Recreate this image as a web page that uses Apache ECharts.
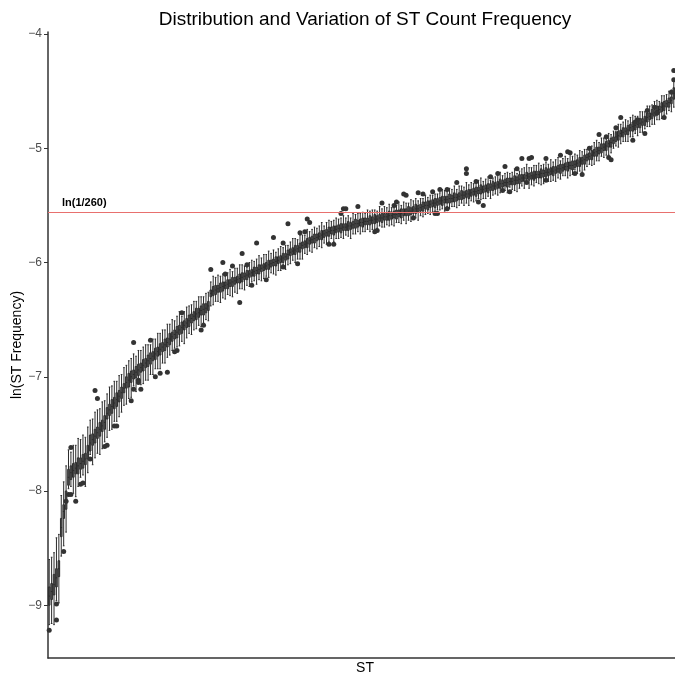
<!DOCTYPE html>
<html>
<head>
<meta charset="utf-8">
<script src="https://cdn.jsdelivr.net/npm/echarts@6/dist/echarts.min.js"></script>
<style>
html,body{margin:0;padding:0;background:#fff;}
#chart{width:675px;height:676px;}
</style>
</head>
<body>
<div id="chart"></div>
<script>
// Median ln(frequency) per ST (sorted)
const medians = [
-8.92,-8.88,-8.82,-8.76,-8.68,-8.32,-8.18,-8.08,-7.88,-7.84,
-7.82,-7.80,-7.78,-7.76,-7.74,-7.72,-7.66,-7.58,-7.55,-7.52,
-7.49,-7.46,-7.43,-7.40,-7.32,-7.29,-7.26,-7.23,-7.20,-7.17,
-7.14,-7.10,-7.05,-7.03,-7.00,-6.98,-6.96,-6.94,-6.92,-6.90,
-6.88,-6.86,-6.84,-6.82,-6.80,-6.78,-6.76,-6.74,-6.72,-6.70,
-6.67,-6.65,-6.63,-6.61,-6.59,-6.57,-6.55,-6.53,-6.51,-6.49,
-6.47,-6.45,-6.44,-6.42,-6.41,-6.40,-6.38,-6.27,-6.25,-6.24,
-6.23,-6.22,-6.21,-6.20,-6.19,-6.18,-6.17,-6.16,-6.15,-6.14,
-6.13,-6.12,-6.11,-6.10,-6.09,-6.08,-6.07,-6.06,-6.05,-6.04,
-6.03,-6.02,-6.01,-6.00,-5.99,-5.98,-5.97,-5.96,-5.95,-5.93,
-5.91,-5.90,-5.89,-5.88,-5.87,-5.85,-5.84,-5.83,-5.81,-5.80,
-5.79,-5.78,-5.77,-5.76,-5.75,-5.74,-5.73,-5.72,-5.72,-5.71,
-5.70,-5.70,-5.69,-5.69,-5.68,-5.68,-5.67,-5.66,-5.66,-5.65,
-5.65,-5.64,-5.64,-5.63,-5.63,-5.62,-5.62,-5.61,-5.61,-5.60,
-5.60,-5.59,-5.59,-5.58,-5.58,-5.57,-5.57,-5.56,-5.56,-5.55,
-5.55,-5.54,-5.53,-5.53,-5.52,-5.51,-5.50,-5.50,-5.49,-5.48,
-5.48,-5.47,-5.46,-5.46,-5.45,-5.45,-5.44,-5.44,-5.43,-5.43,
-5.42,-5.41,-5.41,-5.40,-5.40,-5.39,-5.38,-5.38,-5.37,-5.36,
-5.36,-5.35,-5.35,-5.34,-5.33,-5.33,-5.32,-5.31,-5.31,-5.30,
-5.30,-5.29,-5.29,-5.28,-5.28,-5.27,-5.26,-5.26,-5.24,-5.25,
-5.24,-5.24,-5.23,-5.23,-5.22,-5.22,-5.21,-5.21,-5.20,-5.20,
-5.19,-5.18,-5.18,-5.17,-5.16,-5.16,-5.15,-5.15,-5.14,-5.13,
-5.12,-5.11,-5.10,-5.08,-5.07,-5.06,-5.04,-5.03,-5.02,-5.00,
-4.99,-4.98,-4.96,-4.95,-4.93,-4.90,-4.89,-4.87,-4.86,-4.85,
-4.84,-4.82,-4.81,-4.80,-4.79,-4.78,-4.77,-4.76,-4.73,-4.72,
-4.70,-4.69,-4.67,-4.66,-4.64,-4.63,-4.61,-4.60,-4.58,-4.52
];
// Half height of the interquartile box per ST
const boxHalf = [
.08,.07,.09,.08,.07,.08,.06,.08,.07,.06,
.06,.05,.07,.05,.06,.05,.06,.07,.05,.06,
.05,.06,.05,.06,.05,.05,.06,.05,.06,.05,
.05,.04,.05,.06,.05,.04,.05,.05,.04,.05,
.04,.05,.05,.04,.05,.04,.05,.04,.05,.04,
.05,.04,.04,.05,.04,.05,.04,.04,.05,.04,
.04,.05,.04,.04,.05,.04,.04,.03,.04,.04,
.03,.04,.04,.03,.04,.03,.04,.03,.03,.04,
.04,.03,.04,.03,.03,.04,.03,.04,.03,.03,
.03,.04,.03,.03,.04,.03,.03,.04,.03,.04,
.03,.03,.04,.03,.04,.03,.03,.04,.03,.03,
.04,.03,.03,.04,.03,.03,.04,.03,.04,.03,
.03,.04,.03,.03,.04,.03,.03,.04,.03,.03,
.04,.03,.03,.04,.03,.04,.03,.03,.04,.03,
.03,.04,.03,.03,.04,.03,.04,.03,.03,.04,
.03,.03,.04,.03,.03,.04,.03,.04,.03,.03,
.04,.03,.03,.04,.03,.03,.04,.03,.04,.03,
.03,.04,.03,.03,.04,.03,.03,.04,.03,.04,
.03,.03,.04,.03,.04,.03,.03,.04,.03,.03,
.04,.03,.03,.04,.03,.04,.03,.03,.03,.03,
.03,.04,.03,.03,.04,.03,.04,.03,.03,.04,
.03,.03,.04,.03,.03,.04,.03,.04,.03,.03,
.04,.03,.04,.03,.03,.04,.03,.04,.03,.04,
.03,.04,.03,.04,.03,.04,.04,.03,.04,.03,
.04,.03,.04,.04,.03,.04,.03,.04,.04,.03,
.04,.03,.04,.03,.04,.04,.03,.04,.03,.05
];
// Length of lower whisker below the median
const whiskLo = [
.25,.28,.35,.20,.30,.25,.30,.28,.10,.12,
.20,.25,.18,.12,.12,.24,.18,.10,.22,.19,
.18,.22,.20,.17,.21,.18,.20,.16,.19,.18,
.17,.15,.19,.16,.18,.10,.17,.10,.15,.16,
.15,.17,.14,.16,.13,.15,.17,.14,.16,.13,
.14,.12,.12,.13,.14,.12,.16,.13,.11,.14,
.12,.13,.11,.14,.12,.10,.13,.11,.12,.10,
.11,.13,.10,.12,.09,.11,.13,.10,.12,.09,
.10,.12,.09,.11,.08,.08,.12,.09,.11,.10,
.09,.11,.08,.10,.12,.09,.10,.06,.11,.09,
.10,.08,.11,.09,.10,.12,.08,.10,.09,.11,
.08,.10,.09,.11,.08,.10,.09,.07,.10,.08,
.09,.08,.10,.07,.09,.11,.08,.09,.07,.10,
.08,.09,.07,.10,.08,.09,.08,.07,.08,.09,
.07,.09,.08,.10,.07,.08,.09,.07,.10,.08,
.09,.05,.08,.10,.07,.09,.08,.07,.09,.08,
.07,.07,.08,.07,.10,.06,.09,.07,.08,.09,
.08,.07,.09,.08,.10,.07,.09,.08,.07,.09,
.08,.09,.07,.10,.08,.07,.09,.08,.04,.07,
.09,.05,.07,.09,.10,.08,.07,.09,.04,.10,
.08,.09,.07,.08,.10,.09,.05,.08,.09,.08,
.10,.08,.09,.07,.08,.10,.09,.08,.05,.09,
.08,.10,.09,.08,.07,.09,.10,.08,.09,.07,
.09,.08,.10,.09,.07,.08,.10,.09,.08,.09,
.10,.08,.09,.07,.10,.08,.09,.07,.08,.09,
.09,.10,.08,.09,.10,.08,.09,.07,.10,.12
];
// Length of upper whisker above the median
const whiskHi = [
.32,.30,.28,.35,.30,.28,.26,.30,.24,.18,
.22,.20,.24,.21,.23,.19,.22,.20,.18,.21,
.20,.18,.21,.19,.17,.20,.18,.19,.16,.18,
.16,.18,.15,.17,.16,.18,.14,.17,.15,.16,
.16,.14,.12,.15,.13,.16,.14,.15,.13,.16,
.13,.15,.12,.14,.16,.10,.12,.14,.13,.12,
.13,.11,.14,.12,.11,.13,.12,.10,.13,.11,
.12,.10,.11,.08,.10,.12,.09,.11,.10,.12,
.11,.09,.07,.10,.11,.09,.10,.12,.09,.11,
.10,.12,.09,.11,.08,.10,.11,.09,.10,.08,
.09,.11,.10,.08,.11,.09,.08,.12,.08,.09,
.10,.08,.09,.11,.07,.09,.10,.08,.09,.10,
.08,.09,.10,.08,.09,.07,.10,.08,.09,.08,
.09,.07,.10,.08,.09,.08,.07,.10,.08,.09,
.08,.10,.07,.06,.08,.10,.07,.09,.08,.07,
.10,.08,.09,.07,.08,.07,.09,.07,.08,.07,
.08,.07,.07,.10,.08,.07,.09,.08,.10,.07,
.09,.08,.07,.10,.08,.09,.07,.08,.09,.10,
.07,.08,.10,.06,.07,.08,.09,.10,.07,.08,
.09,.07,.08,.10,.06,.07,.08,.09,.10,.08,
.07,.09,.08,.10,.07,.08,.09,.07,.10,.08,
.09,.10,.07,.08,.09,.07,.10,.08,.09,.07,
.10,.08,.09,.07,.05,.08,.09,.10,.07,.09,
.08,.06,.09,.07,.08,.05,.10,.08,.09,.10,
.08,.09,.10,.08,.07,.10,.09,.08,.10,.09,
.08,.10,.09,.07,.10,.09,.08,.10,.09,.12
];
// Outlier points: [ST index, ln(frequency)]
const outliers = [
[0,-9.22],[3,-9.13],[3,-8.99],[6,-8.53],[7,-8.09],[8,-8.03],[9,-8.03],[11,-8.09],[13,-7.94],[14,-7.93],
[9,-7.62],[17,-7.72],[19,-7.12],[20,-7.19],[23,-7.61],[24,-7.60],[27,-7.43],[28,-7.43],[34,-7.21],[35,-6.70],
[35,-7.11],[37,-7.05],[37,-7.03],[38,-7.11],[42,-6.68],[44,-7.00],[46,-6.97],[49,-6.96],[52,-6.78],[53,-6.77],
[55,-6.44],[63,-6.59],[64,-6.55],[67,-6.06],[72,-6.00],[73,-6.10],[76,-6.03],[79,-6.35],[80,-5.92],[82,-6.02],
[84,-6.20],[86,-5.83],[90,-6.15],[93,-5.78],[97,-5.83],[97,-6.04],[99,-5.66],[103,-6.01],[104,-5.74],[106,-5.73],
[107,-5.62],[108,-5.65],[116,-5.84],[118,-5.84],[121,-5.57],[122,-5.53],[123,-5.53],[128,-5.51],[135,-5.73],[136,-5.72],
[138,-5.48],[143,-5.50],[144,-5.47],[147,-5.40],[148,-5.41],[151,-5.61],[153,-5.39],[155,-5.40],[159,-5.38],[160,-5.57],
[161,-5.57],[162,-5.36],[165,-5.36],[165,-5.53],[169,-5.30],[173,-5.18],[173,-5.22],[177,-5.29],[178,-5.47],[180,-5.50],
[183,-5.25],[186,-5.22],[188,-5.37],[189,-5.16],[191,-5.38],[194,-5.18],[196,-5.09],[198,-5.30],[199,-5.09],[200,-5.08],
[201,-5.25],[206,-5.09],[206,-5.28],[212,-5.06],[215,-5.03],[216,-5.04],[218,-5.22],[221,-5.23],[224,-5.00],[228,-4.88],
[231,-4.90],[232,-5.08],[233,-5.10],[235,-4.82],[237,-4.73],[242,-4.93],[243,-4.77],[244,-4.75],[247,-4.87],[248,-4.67],
[251,-4.64],[252,-4.69],[255,-4.73],[258,-4.51],[259,-4.32],[259,-4.40]
];
const yTicks = [-9,-8,-7,-6,-5,-4];
const refValue = Math.log(1/260);
const refLabel = 'ln(1/260)';

const categories = medians.map((_, i) => 'ST' + (i + 1));
const boxData = medians.map((m, i) => [m - whiskLo[i], m - boxHalf[i], m, m + boxHalf[i], m + whiskHi[i]]);

const FONT = '"Liberation Sans", Arial, sans-serif';
const chart = echarts.init(document.getElementById('chart'), null, {renderer: 'canvas'});
chart.setOption({
  animation: false,
  backgroundColor: '#fff',
  title: {
    text: 'Distribution and Variation of ST Count Frequency',
    left: 360, top: 5, textAlign: 'center',
    textStyle: {fontFamily: FONT, fontSize: 19, fontWeight: 'normal', color: '#000'}
  },
  grid: {left: 48, right: 0, top: 32, bottom: 18, containLabel: false, outerBoundsMode: 'none'},
  xAxis: {
    type: 'category',
    data: categories,
    name: 'ST',
    nameLocation: 'middle',
    nameGap: 3,
    nameTextStyle: {fontFamily: FONT, fontSize: 14, color: '#000', verticalAlign: 'top', padding: [0, 0, 0, 7]},
    axisLine: {lineStyle: {color: '#333', width: 1.5}},
    axisTick: {show: false},
    axisLabel: {show: false},
    splitLine: {show: false}
  },
  yAxis: {
    type: 'value',
    min: -9.462, max: -3.982,
    name: 'ln(ST Frequency)',
    nameLocation: 'middle',
    nameGap: 24,
    nameMoveOverlap: false,
    nameRotate: 90,
    nameTextStyle: {fontFamily: FONT, fontSize: 14, color: '#000'},
    axisLine: {show: true, lineStyle: {color: '#333', width: 1.5}},
    axisTick: {show: true, length: 4, lineStyle: {color: '#333'}, customValues: yTicks},
    axisLabel: {
      customValues: yTicks,
      fontFamily: FONT, fontSize: 12, color: '#4d4d4d', margin: 6,
      formatter: v => (v < 0 ? '\u2212' : '') + Math.abs(v)
    },
    splitLine: {show: false}
  },
  series: [
    {
      type: 'boxplot',
      data: boxData,
      boxWidth: [1.6, 1.6],
      itemStyle: {color: '#555', borderColor: '#2b2b2b', borderWidth: 1},
      silent: true
    },
    {
      type: 'scatter',
      data: outliers,
      symbolSize: 5,
      itemStyle: {color: '#333', opacity: 1},
      silent: true,
      markLine: {
        silent: true,
        symbol: 'none',
        lineStyle: {color: '#e8706e', width: 1, type: 'solid', opacity: 1},
        label: {
          show: true, position: 'insideStartTop', formatter: refLabel,
          fontFamily: FONT, fontSize: 11, fontWeight: 'bold', color: '#000',
          distance: [14, 4]
        },
        data: [{yAxis: refValue, lineStyle: {color: '#e8706e', width: 1, type: 'solid'}}]
      }
    }
  ]
});
</script>
</body>
</html>
